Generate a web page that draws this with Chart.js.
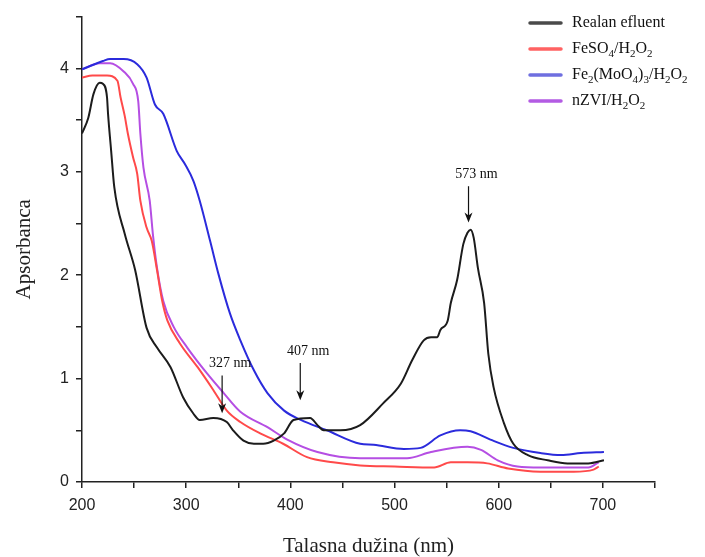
<!DOCTYPE html>
<html>
<head>
<meta charset="utf-8">
<script src="https://cdn.jsdelivr.net/npm/chart.js@4/dist/chart.umd.min.js"></script>
<style>
  html, body { margin: 0; padding: 0; background: #fff; }
  #wrap { width: 705px; height: 557px; }
</style>
</head>
<body>
<div id="wrap"><canvas id="uvChart"></canvas></div>
<script>
// wavelengths (nm) and absorbance
const realanX = [200, 206, 211, 217, 220, 224, 225, 228, 231, 241, 251, 262, 272, 285, 297, 307, 313, 326, 339, 345, 355, 365, 374, 384, 394, 403, 419, 426, 432, 448, 467, 489, 506, 517, 528, 535, 541, 544, 551, 554, 560, 566, 570, 573, 576, 580, 586, 590, 595, 605, 614, 628, 647, 666, 686, 701];
const realanY = [3.37, 3.52, 3.75, 3.86, 3.85, 3.72, 3.56, 3.2, 2.85, 2.40, 2.05, 1.49, 1.30, 1.11, 0.82, 0.66, 0.60, 0.62, 0.58, 0.50, 0.40, 0.37, 0.37, 0.40, 0.47, 0.60, 0.62, 0.55, 0.50, 0.50, 0.55, 0.76, 0.95, 1.18, 1.37, 1.40, 1.40, 1.47, 1.56, 1.73, 1.95, 2.30, 2.41, 2.44, 2.36, 2.07, 1.73, 1.24, 0.92, 0.57, 0.37, 0.26, 0.21, 0.18, 0.18, 0.21];

const feso4X = [200, 210, 224, 234, 237, 241, 244, 249, 253, 256, 262, 267, 272, 277, 282, 294, 311, 326, 339, 352, 371, 393, 416, 441, 467, 500, 538, 554, 570, 589, 609, 640, 672, 691, 696];
const feso4Y = [3.91, 3.93, 3.93, 3.88, 3.72, 3.54, 3.37, 3.14, 2.98, 2.72, 2.46, 2.33, 2.05, 1.75, 1.56, 1.34, 1.11, 0.89, 0.69, 0.58, 0.47, 0.37, 0.24, 0.19, 0.16, 0.15, 0.14, 0.19, 0.19, 0.18, 0.13, 0.10, 0.10, 0.12, 0.15];

const femoX = [200, 220, 227, 240, 253, 262, 270, 278, 291, 299, 307, 313, 323, 331, 342, 352, 365, 378, 394, 410, 435, 467, 480, 509, 525, 544, 563, 573, 592, 614, 640, 660, 679, 701];
const femoY = [3.99, 4.07, 4.09, 4.09, 4.04, 3.91, 3.65, 3.56, 3.20, 3.07, 2.91, 2.72, 2.33, 2.01, 1.63, 1.37, 1.08, 0.86, 0.69, 0.60, 0.50, 0.37, 0.36, 0.32, 0.33, 0.45, 0.50, 0.49, 0.41, 0.33, 0.28, 0.26, 0.28, 0.29];

const nzviX = [200, 217, 227, 240, 249, 254, 256, 259, 265, 268, 272, 278, 288, 301, 320, 336, 352, 378, 397, 426, 467, 512, 535, 570, 583, 599, 618, 640, 686, 696];
const nzviY = [3.99, 4.05, 4.05, 3.97, 3.85, 3.68, 3.37, 3.04, 2.72, 2.40, 2.07, 1.75, 1.50, 1.30, 1.05, 0.86, 0.68, 0.53, 0.41, 0.29, 0.23, 0.23, 0.29, 0.34, 0.31, 0.21, 0.15, 0.14, 0.14, 0.19];

// legend labels, "_d" marks a subscript digit
const seriesNames = ['Realan efluent', 'FeSO_4/H_2O_2', 'Fe_2(MoO_4)_3/H_2O_2', 'nZVI/H_2O_2'];

// peak markers: label, arrow x, arrow top, arrow tip
const peakLabels = ['573 nm', '407 nm', '327 nm'];
const peakX = [571, 409.5, 334.5];
const peakTop = [2.86, 1.15, 1.03];
const peakTip = [2.51, 0.79, 0.665];

const xTickLabels = [200, 300, 400, 500, 600, 700];
const yTickLabels = [0, 1, 2, 3, 4];

const lineColors = ['#1c1c1c', '#ff4a4a', '#2b2bdc', '#b54ee3'];
const legendColors = ['#4a4a4a', '#ff6262', '#6f6fe0', '#b35be3'];

function pairs(xs, ys) {
  return xs.map((x, i) => ({ x, y: ys[i] }));
}

function drawRich(ctx, str, x, y, size) {
  // draws text with _d subscripts, returns end x
  let cx = x;
  const parts = str.split(/(_\d)/).filter((p) => p.length);
  parts.forEach((p) => {
    if (p[0] === '_') {
      ctx.font = `${Math.round(size * 0.68)}px "Liberation Serif", serif`;
      ctx.fillText(p[1], cx, y + size * 0.3);
      cx += ctx.measureText(p[1]).width;
    } else {
      ctx.font = `${size}px "Liberation Serif", serif`;
      ctx.fillText(p, cx, y);
      cx += ctx.measureText(p).width;
    }
  });
  return cx;
}

const legendPlugin = {
  id: 'subLegend',
  afterDraw(chart) {
    const ctx = chart.ctx;
    ctx.save();
    ctx.textBaseline = 'middle';
    ctx.fillStyle = '#111';
    seriesNames.forEach((name, i) => {
      const y = 23 + i * 26;
      ctx.strokeStyle = legendColors[i];
      ctx.lineWidth = 3.5;
      ctx.lineCap = 'round';
      ctx.beginPath();
      ctx.moveTo(530, y);
      ctx.lineTo(561, y);
      ctx.stroke();
      drawRich(ctx, name, 572, y, 16);
    });
    ctx.restore();
  }
};

const peakPlugin = {
  id: 'peakArrows',
  afterDatasetsDraw(chart) {
    const ctx = chart.ctx;
    const xs = chart.scales.x;
    const ys = chart.scales.y;
    ctx.save();
    ctx.strokeStyle = '#111';
    ctx.fillStyle = '#111';
    ctx.lineWidth = 1.2;
    peakLabels.forEach((label, i) => {
      const px = xs.getPixelForValue(peakX[i]);
      const top = ys.getPixelForValue(peakTop[i]);
      const tip = ys.getPixelForValue(peakTip[i]);
      ctx.beginPath();
      ctx.moveTo(px, top);
      ctx.lineTo(px, tip - 6);
      ctx.stroke();
      ctx.beginPath();
      ctx.moveTo(px - 4, tip - 10);
      ctx.lineTo(px, tip);
      ctx.lineTo(px + 4, tip - 10);
      ctx.lineTo(px, tip - 7);
      ctx.closePath();
      ctx.fill();
      ctx.font = '14px "Liberation Serif", serif';
      ctx.textAlign = 'center';
      ctx.textBaseline = 'alphabetic';
      ctx.fillText(label, px + 8, top - 8);
    });
    ctx.restore();
  }
};

const datasets = [
  [realanX, realanY],
  [feso4X, feso4Y],
  [femoX, femoY],
  [nzviX, nzviY]
].map(([xs, ys], i) => ({
  label: seriesNames[i],
  data: pairs(xs, ys),
  borderColor: lineColors[i],
  borderWidth: 2,
  pointRadius: 0,
  fill: false,
  cubicInterpolationMode: 'monotone'
}));

new Chart(document.getElementById('uvChart'), {
  type: 'line',
  data: { datasets },
  options: {
    responsive: true,
    maintainAspectRatio: false,
    animation: false,
    layout: { padding: { top: 15, right: 50, left: 0, bottom: 0 } },
    plugins: {
      legend: { display: false },
      tooltip: { enabled: false }
    },
    scales: {
      x: {
        type: 'linear',
        min: 200,
        max: 750,
        afterFit(scale) { scale.height = 75; },
        ticks: {
          stepSize: 50,
          autoSkip: false,
          maxRotation: 0,
          padding: 8,
          color: '#222',
          font: { family: '"Liberation Sans", Arial, sans-serif', size: 16 },
          callback: (v) => (xTickLabels.includes(v) ? String(v) : '')
        },
        grid: { drawOnChartArea: false, drawTicks: true, tickLength: 6, color: '#222', lineWidth: 1.5 },
        border: { display: true, color: '#222', width: 1.5 },
        title: {
          display: true,
          text: 'Talasna dužina (nm)',
          color: '#222',
          padding: 0,
          font: { family: '"Liberation Serif", serif', size: 21, lineHeight: 1 }
        }
      },
      y: {
        type: 'linear',
        min: 0,
        max: 4.5,
        afterFit(scale) { scale.width = 82; },
        ticks: {
          stepSize: 0.5,
          autoSkip: false,
          padding: 7,
          color: '#222',
          font: { family: '"Liberation Sans", Arial, sans-serif', size: 16 },
          callback: (v) => (yTickLabels.includes(v) ? String(v) : '')
        },
        grid: { drawOnChartArea: false, drawTicks: true, tickLength: 6, color: '#222', lineWidth: 1.5 },
        border: { display: true, color: '#222', width: 1.5 },
        title: {
          display: true,
          text: 'Apsorbanca',
          color: '#222',
          padding: { top: 14, bottom: 0 },
          font: { family: '"Liberation Serif", serif', size: 21, lineHeight: 1 }
        }
      }
    }
  },
  plugins: [peakPlugin, legendPlugin]
});
</script>
</body>
</html>
